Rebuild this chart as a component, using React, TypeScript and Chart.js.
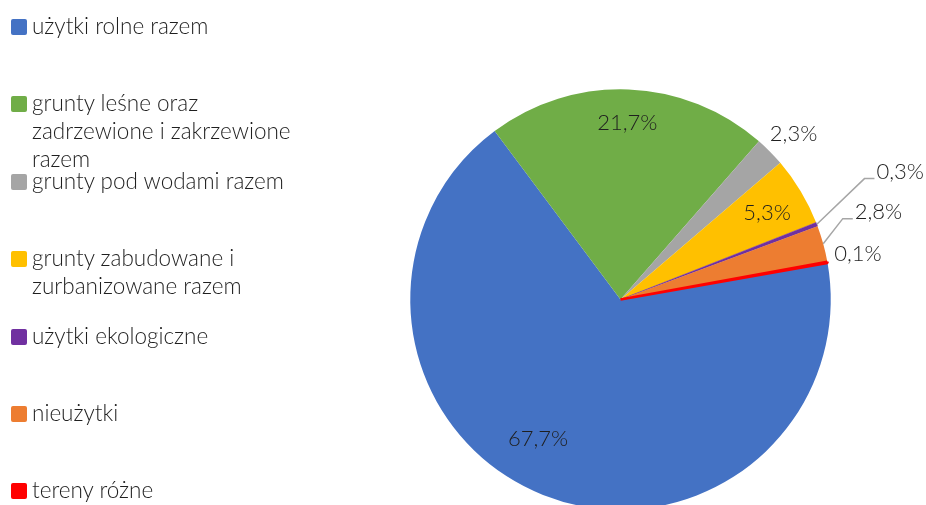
import React, { useEffect, useRef } from 'react';
import { Chart, registerables } from 'chart.js';

Chart.register(...registerables);

const categories = [
  'użytki rolne razem',
  'grunty leśne oraz zadrzewione i zakrzewione razem',
  'grunty pod wodami razem',
  'grunty zabudowane i zurbanizowane razem',
  'użytki ekologiczne',
  'nieużytki',
  'tereny różne',
];
const values = [67.7, 21.7, 2.3, 5.3, 0.3, 2.8, 0.1];
const valueLabels = ['67,7%', '21,7%', '2,3%', '5,3%', '0,3%', '2,8%', '0,1%'];
const colors = ['#4472C4', '#70AD47', '#A5A5A5', '#FFC000', '#7030A0', '#ED7D31', '#FF0000'];

// label placement styling (angle offset in degrees, radius factor, leader line)
const labelAngleOffset = [9, 0, 0.9, 0.4, -5.4, -4.6, -0.6];
const labelRadius = [0.77, 0.84, 1.14, 0.81, 1.295, 1.125, 1.15];
const labelLeader = [false, false, false, false, true, true, false];

const FONT_FAMILY = 'Lato, "Open Sans", sans-serif';
const TEXT_COLOR = '#1f1f1f';

const labelPlugin = {
  id: 'sliceLabels',
  afterDatasetsDraw(chart: any) {
    const meta = chart.getDatasetMeta(0);
    const ctx = chart.ctx;
    ctx.save();
    ctx.font = `300 22px ${FONT_FAMILY}`;
    ctx.fillStyle = TEXT_COLOR;
    ctx.textBaseline = 'middle';
    meta.data.forEach((arc: any, i: number) => {
      const { x, y, startAngle, endAngle, outerRadius } = arc.getProps(
        ['x', 'y', 'startAngle', 'endAngle', 'outerRadius'],
        true
      );
      const mid = (startAngle + endAngle) / 2;
      const a = mid + (labelAngleOffset[i] * Math.PI) / 180;
      const px = x + Math.cos(a) * outerRadius * labelRadius[i];
      const py = y + Math.sin(a) * outerRadius * labelRadius[i];
      if (labelLeader[i]) {
        const ex = x + Math.cos(mid) * outerRadius;
        const ey = y + Math.sin(mid) * outerRadius;
        ctx.strokeStyle = '#A6A6A6';
        ctx.lineWidth = 1.5;
        ctx.beginPath();
        ctx.moveTo(ex, ey);
        ctx.lineTo(px, py);
        ctx.lineTo(px + 10, py);
        ctx.stroke();
        ctx.textAlign = 'left';
        ctx.fillText(valueLabels[i], px + 12, py - 7);
      } else {
        ctx.textAlign = 'center';
        ctx.fillText(valueLabels[i], px, py);
      }
    });
    ctx.restore();
  },
};

export default function App() {
  const canvasRef = useRef<HTMLCanvasElement | null>(null);

  useEffect(() => {
    if (!canvasRef.current) return;
    const chart = new Chart(canvasRef.current, {
      type: 'pie',
      data: {
        labels: categories,
        datasets: [
          {
            data: values,
            backgroundColor: colors,
            borderColor: colors,
            borderWidth: [0, 0, 0, 0, 0.5, 0, 2.5],
          },
        ],
      },
      options: {
        responsive: false,
        animation: false,
        devicePixelRatio: 1,
        rotation: 80,
        layout: { padding: { left: 409, right: 94, top: 88, bottom: 9 } },
        plugins: {
          legend: { display: false },
          tooltip: { enabled: false },
          title: { display: false },
        },
      },
      plugins: [labelPlugin],
    });
    return () => chart.destroy();
  }, []);

  return (
    <div style={{ position: 'fixed', left: 0, top: 0, width: 926, height: 505, overflow: 'hidden', background: '#fff' }}>
      <canvas ref={canvasRef} width={926} height={520} style={{ position: 'absolute', left: 0, top: 0, display: 'block' }} />
      {categories.map((c, i) => (
        <div
          key={c}
          style={{
            position: 'absolute',
            left: 11,
            top: 27 + i * 77.4 - 15,
            display: 'flex',
            alignItems: 'flex-start',
            fontFamily: FONT_FAMILY,
            fontWeight: 300,
            fontSize: 22.5,
            lineHeight: '28px',
            color: TEXT_COLOR,
          }}
        >
          <span
            style={{
              display: 'inline-block',
              width: 16,
              height: 16,
              marginTop: 7,
              marginRight: 5,
              borderRadius: 2,
              background: colors[i],
              flex: '0 0 auto',
            }}
          />
          <span style={{ width: 275 }}>{c}</span>
        </div>
      ))}
    </div>
  );
}
